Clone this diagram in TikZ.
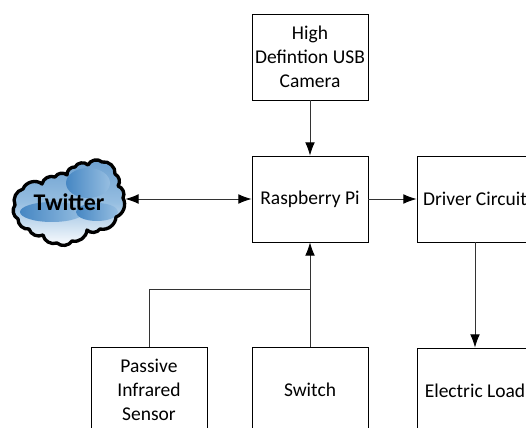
\documentclass[tikz,border=0pt]{standalone}
\usepackage{fontspec}
\setmainfont{Carlito}
\usetikzlibrary{arrows.meta}
\definecolor{lineGray}{gray}{0.2}
\definecolor{cloudBlue}{RGB}{70,135,195}
\definecolor{cloudPale}{RGB}{150,190,225}
\newcommand{\cloudoutline}{(15,205) to[bend left=50] (23,189) to[bend left=55] (42,184) to[bend left=50] (55,177)
      to[bend left=50] (67,175) to[bend left=50] (75,167) to[bend left=55] (88,165) to[bend left=55] (102,162)
      to[bend left=55] (115,174) to[bend left=50] (118,186) to[bend left=50] (123,198)
      to[bend left=50] (116,217) to[bend left=50] (100,229) to[bend left=50] (87,230)
      to[bend left=50] (72,241) to[bend left=50] (57,243) to[bend left=50] (43,235) to[bend left=50] (29,229)
      to[bend left=50] (18,219) to[bend left=50] cycle}
\tikzset{
  block/.style={draw=black,fill=white,line width=0.5pt,minimum width=2.32cm,minimum height=1.72cm,
                inner sep=0pt,align=center,font=\fontsize{11.1}{13.7}\selectfont},
  link/.style={draw=lineGray,line width=0.5pt,>={Latex[black,length=7.5pt,width=5.5pt]}},
  blob/.style={left color=cloudBlue,right color=cloudPale}
}
\begin{document}
\begin{tikzpicture}[x=0.02cm,y=-0.02cm]
\useasboundingbox (0,0) rectangle (526,428);
\clip (0,0) rectangle (526,428);
    % cloud
    \path[top color=cloudBlue!80,bottom color=white,middle color=cloudPale] \cloudoutline;
    \path[blob] (88,183) ellipse (22 and 15);
    \path[blob] (52,212) ellipse (32 and 10);
    \path[blob] (97,212) ellipse (21 and 9);
    \draw[black,line width=1.9pt,line join=round] \cloudoutline;
    \node[minimum width=2.24cm,minimum height=1.7cm,inner sep=0pt,font=\fontsize{13.6}{15}\selectfont\bfseries] (twitter) at (69,202) {Twitter};

    \node[block] (camera) at (310,57) {High\\Defintion USB\\Camera};
    \node[block] (pi) at (310,199) {Raspberry Pi};
    \node[block] (driver) at (475,199) {Driver Circuit};
    \node[block] (pir) at (149,390) {Passive\\Infrared\\Sensor};
    \node[block] (switch) at (310,390) {Switch};
    \node[block] (load) at (475,391) {Electric Load};
    \coordinate (bend) at (310,289);

    \draw[link,->] (camera) -- (pi);
    \draw[link,<->] (twitter.east |- pi.west) -- (pi.west);
    \draw[link,->] (pi) -- (driver);
    \draw[link,->] (driver) -- (load);
    \draw[link,->] (switch) -- (pi);
    \draw[link] (pir.north) |- (bend);
\end{tikzpicture}
\end{document}
